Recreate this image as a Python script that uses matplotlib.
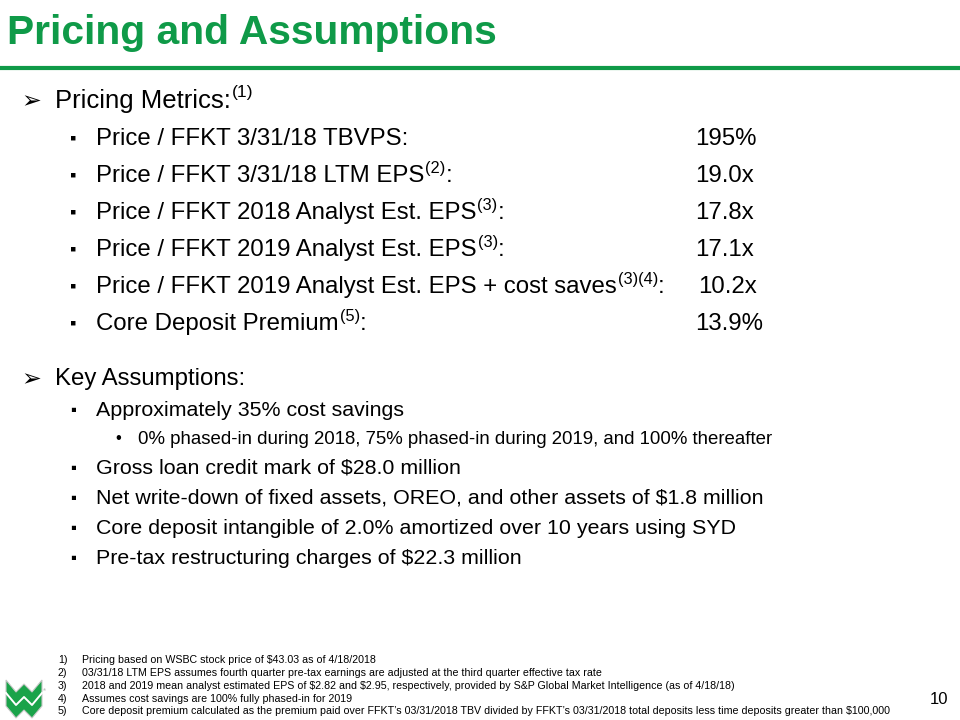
import matplotlib
matplotlib.use("Agg")
import matplotlib.pyplot as plt
from matplotlib.patches import Polygon

# ---- slide content ----
title = "Pricing and Assumptions"

section1 = "Pricing Metrics:"
section1_note = "(1)"
metric_labels = [
    ("Price / FFKT 3/31/18 TBVPS:", ""),
    ("Price / FFKT 3/31/18 LTM EPS", "(2)"),
    ("Price / FFKT 2018 Analyst Est. EPS", "(3)"),
    ("Price / FFKT 2019 Analyst Est. EPS", "(3)"),
    ("Price / FFKT 2019 Analyst Est. EPS + cost saves", "(3)(4)"),
    ("Core Deposit Premium", "(5)"),
]
metric_values = ["195%", "19.0x", "17.8x", "17.1x", "10.2x", "13.9%"]

section2 = "Key Assumptions:"
assumptions = [
    "Approximately 35% cost savings",
    "Gross loan credit mark of $28.0 million",
    "Net write-down of fixed assets, OREO, and other assets of $1.8 million",
    "Core deposit intangible of 2.0% amortized over 10 years using SYD",
    "Pre-tax restructuring charges of $22.3 million",
]
sub_bullet = "0% phased-in during 2018, 75% phased-in during 2019, and 100% thereafter"

footnotes = [
    "Pricing based on WSBC stock price of $43.03 as of 4/18/2018",
    "03/31/18 LTM EPS assumes fourth quarter pre-tax earnings are adjusted at the third quarter effective tax rate",
    "2018 and 2019 mean analyst estimated EPS of $2.82 and $2.95, respectively, provided by S&P Global Market Intelligence (as of 4/18/18)",
    "Assumes cost savings are 100% fully phased-in for 2019",
    "Core deposit premium calculated as the premium paid over FFKT\u2019s 03/31/2018 TBV divided by FFKT\u2019s 03/31/2018 total deposits less time deposits greater than $100,000",
]
page_number = "10"

green = "#0f9a48"
font = ["Liberation Sans", "DejaVu Sans"]

W, H = 960, 720
fig = plt.figure(figsize=(9.6, 7.2), dpi=100)
fig.patch.set_facecolor("white")
ax = fig.add_axes([0, 0, 1, 1])
ax.set_xlim(0, W)
ax.set_ylim(H, 0)
ax.axis("off")

fig.canvas.draw()
renderer = fig.canvas.get_renderer()


def text_run(x, y, pieces, size, color="black"):
    # pieces: list of (string, superscript?)
    for s, sup in pieces:
        if not s:
            continue
        if sup:
            t = ax.text(x + 1, y - size * 0.45, s, fontsize=size * 0.68, family=font,
                        color=color, va="center", ha="left", parse_math=False)
        else:
            t = ax.text(x, y, s, fontsize=size, family=font, color=color,
                        va="center", ha="left", parse_math=False)
        x += t.get_window_extent(renderer).width + (1 if sup else 0)
    return x


# title + rule
ax.text(7, 33, title, fontsize=29.3, weight="bold", color=green, family=font,
        va="center", ha="left")
ax.plot([0, W], [68, 68], color=green, lw=3, solid_capstyle="butt")

body = 17.3
# section 1
ax.text(21, 101, "\u27a2", fontsize=17, family=["DejaVu Sans"], va="center", ha="left")
text_run(55, 101, [(section1, False), (section1_note, True)], 18.5)

y = 139
for (lab, note), val in zip(metric_labels, metric_values):
    ax.text(70, y, "\u25aa", fontsize=13, family=font, va="center", ha="left")
    if note:
        text_run(96, y, [(lab, False), (note, True), (":", False)], body)
    else:
        text_run(96, y, [(lab, False)], body)
    xv = 698 if val == "10.2x" else 695
    ax.text(xv, y, val, fontsize=body, family=font, va="center", ha="left")
    y += 37

# section 2
ax.text(21, 379, "\u27a2", fontsize=17, family=["DejaVu Sans"], va="center", ha="left")
text_run(55, 379, [(section2, False)], body)

small = 15.4
ys = [410, 468, 498, 528, 558]
for yy, a in zip(ys, assumptions):
    ax.text(70, yy, "\u25aa", fontsize=12, family=font, va="center", ha="left")
    ax.text(96, yy, a, fontsize=small, family=font, va="center", ha="left",
            parse_math=False)
ax.text(115, 439, "\u2022", fontsize=12, family=font, va="center", ha="left")
ax.text(138, 439, sub_bullet, fontsize=13.4, family=font, va="center", ha="left")

# footnotes
fy = [660, 673, 686, 698.5, 711]
for i, (yy, fn) in enumerate(zip(fy, footnotes)):
    ax.text(58, yy, f"{i + 1})", fontsize=7.7, family=font, va="center", ha="left")
    ax.text(82, yy, fn, fontsize=7.7, family=font, va="center", ha="left",
            parse_math=False)

ax.text(939, 700, page_number, fontsize=12, family=font, va="center", ha="center")

# logo (stylised W chevron band)
logo_g = "#1aa34a"
top_edge = [(6, 680), (16, 692), (24, 684), (32, 692), (42, 680)]
bot_edge = [(6, 706), (16, 718), (24, 710), (32, 718), (42, 706)]
ax.add_patch(Polygon(top_edge + bot_edge[::-1], closed=True, fc=logo_g,
                     ec="#c8c8c8", lw=0.8))
mid = [(6, 693), (16, 705), (24, 697), (32, 705), (42, 693)]
ax.plot([p[0] for p in mid], [p[1] for p in mid], color="white", lw=1.4)
ax.text(43, 690, "\u00ae", fontsize=3, family=font, color="#888888", va="center")

fig.savefig("out.png", dpi=100, facecolor="white")
